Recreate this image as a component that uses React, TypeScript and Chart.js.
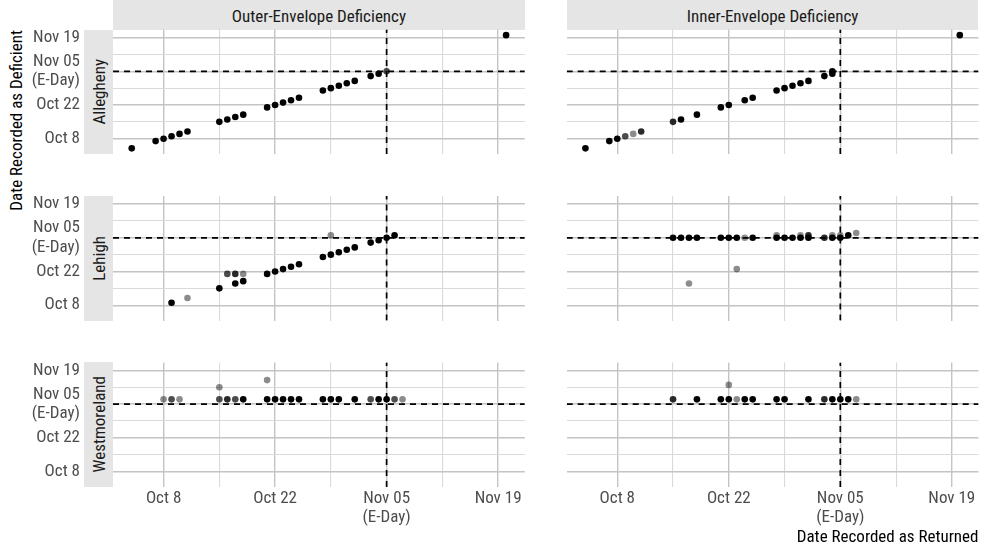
import React, { useEffect, useRef } from 'react';
import { Chart, registerables } from 'chart.js';

Chart.register(...registerables);

const FONT =
  "'Liberation Sans Narrow', 'Arial Narrow', 'Roboto Condensed', 'DejaVu Sans Condensed', 'Liberation Sans', sans-serif";

// ---------- labels ----------
const YEAR = 2024;
const ORIGIN_DATE = '10-08';
const ELECTION_DAY = '11-05';
const MAJOR_TICK_DATES = ['10-08', '10-22', '11-05', '11-19'];
const MAJOR_TICK_LABELS = [['Oct 8'], ['Oct 22'], ['Nov 05', '(E-Day)'], ['Nov 19']];
const MINOR_TICK_DATES = ['10-15', '10-29', '11-12'];
const COUNTIES = ['Allegheny', 'Lehigh', 'Westmoreland'];
const DEFICIENCIES = ['Outer-Envelope Deficiency', 'Inner-Envelope Deficiency'];
const X_TITLE = 'Date Recorded as Returned';
const Y_TITLE = 'Date Recorded as Deficient';

// ---------- data (MM-DD, 2024) ; n = number of overlapping ballots ----------
const ALLEGHENY_OUTER_RETURNED = ['10-04', '10-07', '10-08', '10-09', '10-10', '10-11', '10-15', '10-16', '10-17', '10-18', '10-21', '10-22', '10-23', '10-24', '10-25', '10-28', '10-29', '10-30', '10-31', '11-01', '11-03', '11-04', '11-05', '11-20'];
const ALLEGHENY_OUTER_DEFICIENT = ['10-04', '10-07', '10-08', '10-09', '10-10', '10-11', '10-15', '10-16', '10-17', '10-18', '10-21', '10-22', '10-23', '10-24', '10-25', '10-28', '10-29', '10-30', '10-31', '11-01', '11-03', '11-04', '11-05', '11-20'];
const ALLEGHENY_OUTER_N = [8, 8, 8, 8, 8, 8, 8, 8, 8, 8, 8, 8, 8, 8, 8, 8, 8, 8, 8, 8, 8, 8, 2, 8];

const ALLEGHENY_INNER_RETURNED = ['10-04', '10-07', '10-08', '10-09', '10-10', '10-11', '10-15', '10-16', '10-18', '10-21', '10-22', '10-24', '10-25', '10-28', '10-29', '10-30', '10-31', '11-01', '11-03', '11-04', '11-04', '11-20'];
const ALLEGHENY_INNER_DEFICIENT = ['10-04', '10-07', '10-08', '10-09', '10-10', '10-11', '10-15', '10-16', '10-18', '10-21', '10-22', '10-24', '10-25', '10-28', '10-29', '10-30', '10-31', '11-01', '11-03', '11-04', '11-05', '11-20'];
const ALLEGHENY_INNER_N = [8, 8, 8, 2, 1, 3, 3, 8, 8, 8, 8, 8, 8, 8, 8, 8, 8, 8, 8, 8, 8, 8];

const LEHIGH_OUTER_RETURNED = ['10-09', '10-11', '10-15', '10-16', '10-17', '10-18', '10-17', '10-18', '10-21', '10-22', '10-23', '10-24', '10-25', '10-28', '10-29', '10-30', '10-31', '11-01', '10-29', '11-03', '11-04', '11-05', '11-06'];
const LEHIGH_OUTER_DEFICIENT = ['10-09', '10-11', '10-15', '10-21', '10-21', '10-21', '10-17', '10-18', '10-21', '10-22', '10-23', '10-24', '10-25', '10-28', '10-29', '10-30', '10-31', '11-01', '11-06', '11-03', '11-04', '11-05', '11-06'];
const LEHIGH_OUTER_N = [8, 1, 8, 2, 3, 1, 8, 8, 8, 8, 8, 8, 8, 8, 8, 8, 8, 8, 1, 8, 8, 8, 8];

const LEHIGH_INNER_RETURNED = ['10-15', '10-16', '10-17', '10-18', '10-21', '10-22', '10-23', '10-24', '10-25', '10-28', '10-29', '10-30', '10-31', '11-01', '11-03', '11-04', '11-05', '11-06', '11-07', '10-17', '10-23', '10-28', '10-31', '11-01', '11-04', '11-05'];
const LEHIGH_INNER_DEFICIENT = ['11-05', '11-05', '11-05', '11-05', '11-05', '11-05', '11-05', '11-05', '11-05', '11-05', '11-05', '11-05', '11-05', '11-05', '11-05', '11-05', '11-05', '11-06', '11-07', '10-17', '10-23', '11-06', '11-06', '11-06', '11-06', '11-06'];
const LEHIGH_INNER_N = [8, 8, 8, 8, 8, 8, 8, 1, 8, 8, 8, 8, 8, 8, 3, 8, 8, 8, 1, 1, 1, 1, 1, 3, 1, 1];

const WESTMORELAND_OUTER_RETURNED = ['10-08', '10-09', '10-10', '10-15', '10-16', '10-17', '10-18', '10-21', '10-22', '10-23', '10-24', '10-25', '10-28', '10-29', '10-30', '11-01', '11-03', '11-04', '11-05', '11-06', '11-07', '10-15', '10-21'];
const WESTMORELAND_OUTER_DEFICIENT = ['11-07', '11-07', '11-07', '11-07', '11-07', '11-07', '11-07', '11-07', '11-07', '11-07', '11-07', '11-07', '11-07', '11-07', '11-07', '11-07', '11-07', '11-07', '11-07', '11-07', '11-07', '11-12', '11-15'];
const WESTMORELAND_OUTER_N = [1, 2, 1, 2, 3, 2, 8, 8, 8, 8, 8, 8, 8, 8, 8, 8, 2, 8, 8, 2, 1, 1, 1];

const WESTMORELAND_INNER_RETURNED = ['10-15', '10-18', '10-21', '10-22', '10-23', '10-24', '10-25', '10-28', '10-29', '11-01', '11-03', '11-04', '11-05', '11-06', '11-07', '10-22'];
const WESTMORELAND_INNER_DEFICIENT = ['11-07', '11-07', '11-07', '11-07', '11-07', '11-07', '11-07', '11-07', '11-07', '11-07', '11-07', '11-07', '11-07', '11-07', '11-07', '11-13'];
const WESTMORELAND_INNER_N = [3, 8, 8, 8, 1, 8, 8, 8, 8, 8, 3, 8, 8, 8, 1, 1];

// ---------- helpers ----------
const toDay = (md: string) => {
  const m = parseInt(md.slice(0, 2), 10) - 1;
  const d = parseInt(md.slice(3, 5), 10);
  const o = ORIGIN_DATE;
  const base = Date.UTC(YEAR, parseInt(o.slice(0, 2), 10) - 1, parseInt(o.slice(3, 5), 10));
  return Math.round((Date.UTC(YEAR, m, d) - base) / 86400000);
};

type PanelData = { returned: string[]; deficient: string[]; n: number[] };
const PANELS: PanelData[][] = [
  [
    { returned: ALLEGHENY_OUTER_RETURNED, deficient: ALLEGHENY_OUTER_DEFICIENT, n: ALLEGHENY_OUTER_N },
    { returned: ALLEGHENY_INNER_RETURNED, deficient: ALLEGHENY_INNER_DEFICIENT, n: ALLEGHENY_INNER_N },
  ],
  [
    { returned: LEHIGH_OUTER_RETURNED, deficient: LEHIGH_OUTER_DEFICIENT, n: LEHIGH_OUTER_N },
    { returned: LEHIGH_INNER_RETURNED, deficient: LEHIGH_INNER_DEFICIENT, n: LEHIGH_INNER_N },
  ],
  [
    { returned: WESTMORELAND_OUTER_RETURNED, deficient: WESTMORELAND_OUTER_DEFICIENT, n: WESTMORELAND_OUTER_N },
    { returned: WESTMORELAND_INNER_RETURNED, deficient: WESTMORELAND_INNER_DEFICIENT, n: WESTMORELAND_INNER_N },
  ],
];

const ALL_DAYS = PANELS.flat().flatMap((p) => [...p.returned, ...p.deficient].map(toDay));
const DATA_MIN = Math.min(...ALL_DAYS);
const DATA_MAX = Math.max(...ALL_DAYS);
const EXPAND = (DATA_MAX - DATA_MIN) * 0.05;
const AX_MIN = DATA_MIN - EXPAND;
const AX_MAX = DATA_MAX + EXPAND;
const EDAY = toDay(ELECTION_DAY);
const MAJOR_DAYS = MAJOR_TICK_DATES.map(toDay);
const MINOR_DAYS = MINOR_TICK_DATES.map(toDay);
const GRID_DAYS = [...MAJOR_DAYS, ...MINOR_DAYS].sort((a, b) => a - b);

const tickLabel = (v: number) => {
  const i = MAJOR_DAYS.indexOf(v);
  return i >= 0 ? MAJOR_TICK_LABELS[i] : '';
};

// ---------- layout ----------
const PANEL_LEFT = [113, 566.7];
const PANEL_W = 411.8;
const PANEL_TOP = [29.5, 196, 362.4];
const PANEL_H = 124.5;
const CANVAS_X = [
  [28, 535],
  [540, 982],
];
const STRIP_BG = '#e5e5e5';

function geometry(row: number, col: number) {
  const [cl, cr] = CANVAS_X[col];
  const top = Math.floor(PANEL_TOP[row]) - 10;
  const panelBottom = PANEL_TOP[row] + PANEL_H;
  const bottom = row === 2 ? 552 : Math.ceil(panelBottom) + 10;
  return {
    left: cl,
    top,
    width: cr - cl,
    height: bottom - top,
    yAxisW: PANEL_LEFT[col] - cl,
    padRight: cr - (PANEL_LEFT[col] + PANEL_W),
    padTop: PANEL_TOP[row] - top,
    xAxisH: bottom - panelBottom,
  };
}

const gridColor = (ctx: any) =>
  ctx.tick && MAJOR_DAYS.includes(ctx.tick.value) ? '#c4c4c4' : '#dadada';
const gridWidth = (ctx: any) => (ctx.tick && MAJOR_DAYS.includes(ctx.tick.value) ? 1.4 : 1.1);

function Panel({ row, col }: { row: number; col: number }) {
  const ref = useRef<HTMLCanvasElement>(null);
  const g = geometry(row, col);
  useEffect(() => {
    if (!ref.current) return;
    const p = PANELS[row][col];
    const isLeft = col === 0;
    const isBottom = row === 2;
    const tickFont = { family: FONT, size: 17, lineHeight: 1.15 };
    const resetPad = (s: any) => {
      s.paddingLeft = 0;
      s.paddingRight = 0;
      s.paddingTop = 0;
      s.paddingBottom = 0;
    };
    const chart = new Chart(ref.current, {
      type: 'scatter',
      data: {
        datasets: [
          {
            data: p.returned.map((r, i) => ({ x: toDay(r), y: toDay(p.deficient[i]) })),
            backgroundColor: p.n.map((n) => `rgba(0,0,0,${1 - Math.pow(0.55, n)})`),
            borderWidth: 0,
            pointRadius: 3.3,
            pointHoverRadius: 3.3,
            order: 0,
          },
          {
            data: [
              { x: EDAY, y: AX_MIN },
              { x: EDAY, y: AX_MAX },
            ],
            showLine: true,
            borderColor: '#000',
            borderWidth: 1.7,
            borderDash: [6, 5],
            pointRadius: 0,
            order: 1,
          },
          {
            data: [
              { x: AX_MIN, y: EDAY },
              { x: AX_MAX, y: EDAY },
            ],
            showLine: true,
            borderColor: '#000',
            borderWidth: 1.7,
            borderDash: [6, 5],
            pointRadius: 0,
            order: 1,
          },
        ] as any,
      },
      options: {
        animation: false,
        responsive: false,
        devicePixelRatio: 1,
        events: [],
        layout: { padding: { left: 0, top: g.padTop, right: g.padRight, bottom: 0 } },
        plugins: { legend: { display: false }, tooltip: { enabled: false } },
        scales: {
          x: {
            type: 'linear',
            min: AX_MIN,
            max: AX_MAX,
            afterBuildTicks: (s: any) => {
              s.ticks = GRID_DAYS.map((v) => ({ value: v }));
            },
            afterFit: (s: any) => {
              s.height = g.xAxisH;
              resetPad(s);
            },
            ticks: {
              display: isBottom,
              autoSkip: false,
              maxRotation: 0,
              minRotation: 0,
              padding: 2,
              color: '#4d4d4d',
              font: tickFont,
              callback: (v: any) => tickLabel(Number(v)),
            },
            grid: { color: gridColor, lineWidth: gridWidth, drawTicks: false },
            border: { display: false },
            title: {
              display: isBottom && col === 1,
              text: X_TITLE,
              align: 'end',
              color: '#000',
              font: { family: FONT, size: 17, lineHeight: 1.2 },
              padding: { top: 0, bottom: 4 },
            },
          },
          y: {
            type: 'linear',
            min: AX_MIN,
            max: AX_MAX,
            afterBuildTicks: (s: any) => {
              s.ticks = GRID_DAYS.map((v) => ({ value: v }));
            },
            afterFit: (s: any) => {
              s.width = g.yAxisW;
              resetPad(s);
            },
            ticks: {
              display: isLeft,
              autoSkip: false,
              padding: 33,
              color: '#4d4d4d',
              font: tickFont,
              callback: (v: any) => tickLabel(Number(v)),
            },
            grid: { color: gridColor, lineWidth: gridWidth, drawTicks: false },
            border: { display: false },
          },
        },
      } as any,
    });
    return () => chart.destroy();
  }, [row, col]);
  return (
    <canvas
      ref={ref}
      width={g.width}
      height={g.height}
      style={{ position: 'absolute', left: g.left, top: g.top, width: g.width, height: g.height }}
    />
  );
}

export default function App() {
  const text = { fontFamily: FONT, fontSize: 17, color: '#1a1a1a' };
  return (
    <div style={{ position: 'absolute', left: 0, top: 0, width: 982, height: 552, background: '#fff', overflow: 'hidden', ...text }}>
      {DEFICIENCIES.map((d, c) => (
        <div
          key={d}
          style={{
            position: 'absolute',
            left: PANEL_LEFT[c],
            top: 0,
            width: PANEL_W,
            height: PANEL_TOP[0],
            background: STRIP_BG,
            display: 'flex',
            alignItems: 'center',
            justifyContent: 'center',
            lineHeight: '20px',
            paddingTop: 2,
            boxSizing: 'border-box',
          }}
        >
          {d}
        </div>
      ))}
      {COUNTIES.map((name, r) => (
        <div
          key={name}
          style={{
            position: 'absolute',
            left: 84,
            top: PANEL_TOP[r],
            width: PANEL_LEFT[0] - 84,
            height: PANEL_H,
            background: STRIP_BG,
            display: 'flex',
            alignItems: 'center',
            justifyContent: 'center',
          }}
        >
          <span style={{ writingMode: 'vertical-rl', transform: 'rotate(180deg)', lineHeight: '20px', whiteSpace: 'nowrap' }}>
            {name}
          </span>
        </div>
      ))}
      <div
        style={{
          position: 'absolute',
          left: 6,
          top: PANEL_TOP[0] + 400,
          width: 400,
          height: 20,
          lineHeight: '20px',
          textAlign: 'right',
          transform: 'rotate(-90deg)',
          transformOrigin: 'top left',
          color: '#000',
          whiteSpace: 'nowrap',
        }}
      >
        {Y_TITLE}
      </div>
      {[0, 1, 2].map((r) => [0, 1].map((c) => <Panel key={`${r}-${c}`} row={r} col={c} />))}
    </div>
  );
}
